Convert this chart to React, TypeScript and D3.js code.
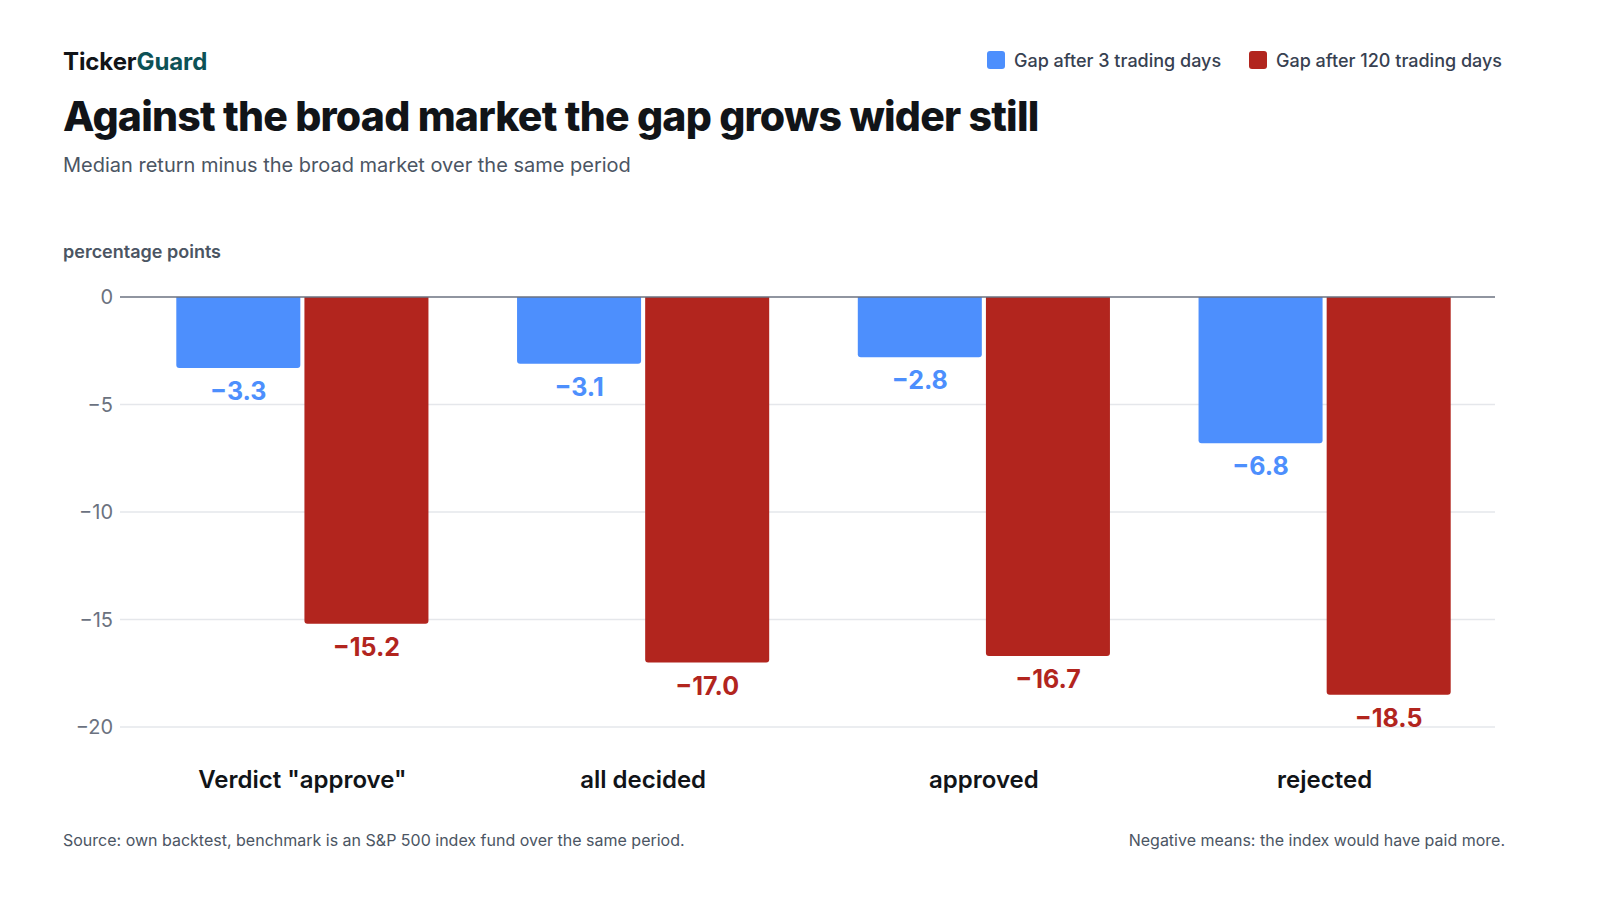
import React from 'react';
import * as d3 from 'd3';

const categories = ['Verdict "approve"', 'all decided', 'approved', 'rejected'];
const seriesNames = ['Gap after 3 trading days', 'Gap after 120 trading days'];
const gap3 = [-3.3, -3.1, -2.8, -6.8];
const gap120 = [-15.2, -17.0, -16.7, -18.5];
const yTicks = [0, -5, -10, -15, -20];
const colors = ['#4d8ffd', '#b2251e'];

const W = 1600;
const H = 900;
const FONT = 'Inter, "Noto Sans", sans-serif';

const fmt = (v: number) => (v < 0 ? '\u2212' : '') + Math.abs(v).toFixed(1);

const App: React.FC = () => {
  const x = d3.scaleBand<string>().domain(categories).range([132, 1495]).paddingInner(0.26).paddingOuter(0.13);
  const xs = d3.scaleBand<string>().domain(seriesNames).range([0, x.bandwidth()]).paddingInner(0.032);
  const y = d3.scaleLinear().domain([0, -20]).range([297, 727]);

  const values = [gap3, gap120];
  const r = 3;

  // bar path: square top at zero, rounded bottom corners
  const barPath = (x0: number, w: number, y0: number, y1: number) =>
    `M${x0},${y0}H${x0 + w}V${y1 - r}Q${x0 + w},${y1} ${x0 + w - r},${y1}H${x0 + r}Q${x0},${y1} ${x0},${y1 - r}Z`;

  return (
    <div style={{ position: 'absolute', left: 0, top: 0 }}>
      <svg width={W} height={H} style={{ display: 'block', background: '#fff', fontFamily: FONT }}>
        {/* header */}
        <text x={63} y={70} fontSize={24} fontWeight={700} letterSpacing={-0.1} fill="#111418">
          Ticker<tspan fill="#0d5256">Guard</tspan>
        </text>
        <text x={63} y={131} fontSize={41} fontWeight={800} letterSpacing={-0.8} fill="#111418">
          Against the broad market the gap grows wider still
        </text>
        <text x={63} y={172} fontSize={20} fill="#4b5563">
          Median return minus the broad market over the same period
        </text>

        {/* legend */}
        {(() => {
          const items = [
            { name: seriesNames[0], x: 987 },
            { name: seriesNames[1], x: 1249 },
          ];
          return items.map((it, i) => (
            <g key={it.name}>
              <rect x={it.x} y={51} width={18} height={18} rx={3} fill={colors[i]} />
              <text x={it.x + 27} y={66.5} fontSize={18} fontWeight={500} fill="#374151">
                {it.name}
              </text>
            </g>
          ));
        })()}

        <text x={63} y={258} fontSize={18} fontWeight={600} fill="#4b5563">
          percentage points
        </text>

        {/* grid + y ticks */}
        {yTicks.map((t) => (
          <g key={t}>
            {t !== 0 && <line x1={120} x2={1495} y1={y(t)} y2={y(t)} stroke="#e5e7eb" strokeWidth={1.5} />}
            <text x={113} y={y(t)} dy="0.35em" textAnchor="end" fontSize={20} fill="#6b7280">
              {t === 0 ? '0' : '\u2212' + Math.abs(t)}
            </text>
          </g>
        ))}

        {/* bars */}
        {categories.map((c, ci) => (
          <g key={c} transform={`translate(${x(c)},0)`}>
            {seriesNames.map((s, si) => {
              const v = values[si][ci];
              const bx = xs(s)!;
              const bw = xs.bandwidth();
              return (
                <g key={s}>
                  <path d={barPath(bx, bw, y(0), y(v))} fill={colors[si]} />
                  <text
                    x={bx + bw / 2}
                    y={y(v) + 32}
                    textAnchor="middle"
                    fontSize={25}
                    fontWeight={700}
                    fill={colors[si]}
                  >
                    {fmt(v)}
                  </text>
                </g>
              );
            })}
            <text x={x.bandwidth() / 2} y={788} textAnchor="middle" fontSize={24} fontWeight={600} fill="#111418">
              {c}
            </text>
          </g>
        ))}

        {/* zero line */}
        <line x1={120} x2={1495} y1={y(0)} y2={y(0)} stroke="#6b7280" strokeWidth={1.5} />

        {/* footer */}
        <text x={63} y={846} fontSize={16} fill="#4b5563">
          Source: own backtest, benchmark is an S&amp;P 500 index fund over the same period.
        </text>
        <text x={1505} y={846} textAnchor="end" fontSize={16} fill="#4b5563">
          Negative means: the index would have paid more.
        </text>
      </svg>
    </div>
  );
};

export default App;
